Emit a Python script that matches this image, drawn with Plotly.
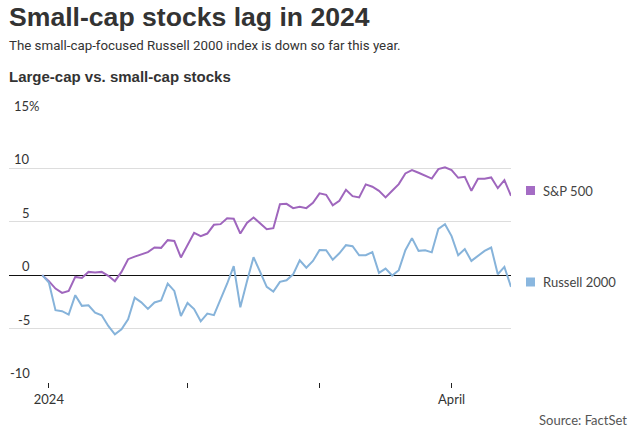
import pandas as pd
import plotly.graph_objects as go

# Trading days: last close of 2023 as the baseline, then 2024 sessions
holidays = ["2024-01-15", "2024-02-19", "2024-03-29"]
sessions = [d for d in pd.bdate_range("2024-01-02", "2024-04-12").strftime("%Y-%m-%d") if d not in holidays]
dates = ["2023-12-29"] + sessions

sp500 = [0, -0.56, -1.25, -1.66, -1.47, -0.16, -0.25, 0.31, 0.25, 0.31,
         -0.06, -0.56, 0.31, 1.5, 1.74, 1.98, 2.16, 2.59, 2.56, 3.28,
         3.21, 1.66, 2.81, 3.97, 3.66, 3.9, 4.72, 4.78, 5.34, 5.28,
         3.9, 4.9, 5.4, 4.9, 4.31, 4.4, 6.65, 6.68, 6.28, 6.4,
         6.28, 6.78, 7.66, 7.53, 6.55, 6.97, 8.0, 7.4, 7.28, 8.5,
         8.28, 7.9, 7.28, 7.9, 8.53, 9.53, 9.84, 9.59, 9.32, 9.05,
         9.93, 10.1, 9.84, 9.12, 9.21, 7.9, 9.03, 9.03, 9.15, 8.15,
         8.9, 7.43]

russell = [0, -0.69, -3.28, -3.37, -3.69, -1.87, -2.87, -2.81, -3.5, -3.75,
           -4.75, -5.53, -5.06, -4.12, -2.1, -2.54, -3.16, -2.55, -2.37, -0.78,
           -1.47, -3.82, -2.6, -3.17, -4.32, -3.59, -3.74, -2.34, -0.8, 0.85,
           -3.0, -0.6, 1.69, 0.31, -1.09, -1.53, -0.62, -0.47, 0.08, 1.4,
           0.7, 1.33, 2.36, 2.34, 1.45, 2.05, 2.81, 2.72, 1.87, 1.87,
           2.16, 0.22, 0.62, -0.03, 0.47, 2.34, 3.47, 2.28, 2.34, 2.14,
           4.34, 4.78, 3.66, 1.87, 2.44, 1.34, 1.78, 2.28, 2.59, 0.09,
           0.78, -1.09]

series_names = ["S&P 500", "Russell 2000"]
series_colors = ["#9f66bd", "#86b3da"]
key_colors = ["#a46cc4", "#8ab7df"]

y_ticks = [15, 10, 5, 0, -5, -10]
y_tick_text = ["15%", "10", "5", "0", "-5", "-10"]
x_tickvals = ["2024-01-02", "2024-02-01", "2024-03-01", "2024-04-01"]
x_ticktext = ["2024", "", "", "April"]

W, H = 633, 434
L, R, T, B = 9, 122, 115, 52
PW, PH = W - L - R, H - T - B


def px(x):
    return (x - L) / PW


def py(y):
    return (H - B - y) / PH


fig = go.Figure()
for name, vals, col in zip(series_names, [sp500, russell], series_colors):
    fig.add_trace(go.Scatter(x=dates, y=vals, mode="lines", name=name,
                             line=dict(color=col, width=2), hoverinfo="skip"))

annotations = []
TXT = "#333333"
annotations.append(dict(text="<b>Small-cap stocks lag in 2024</b>", x=px(7), y=py(17),
                        xref="paper", yref="paper", xanchor="left", yanchor="middle",
                        showarrow=False, font=dict(family="Liberation Sans", size=26.6, color=TXT)))
annotations.append(dict(text="The small-cap-focused Russell 2000 index is down so far this year.",
                        x=px(7), y=py(45), xref="paper", yref="paper", xanchor="left",
                        yanchor="middle", showarrow=False,
                        font=dict(family="Roboto", size=13.3, color=TXT)))
annotations.append(dict(text="<b>Large-cap vs. small-cap stocks</b>", x=px(7), y=py(76),
                        xref="paper", yref="paper", xanchor="left", yanchor="middle",
                        showarrow=False, font=dict(family="Liberation Sans", size=15, color=TXT)))
annotations.append(dict(text="Source: FactSet", x=px(629), y=py(420), xref="paper", yref="paper",
                        xanchor="right", yanchor="middle", showarrow=False,
                        font=dict(family="Lato", size=13, color="#555555")))

for v, t in zip(y_ticks, y_tick_text):
    xr = 42 if t.endswith("%") else 32
    annotations.append(dict(text=t, x=px(xr), y=v, xref="paper", yref="y", xanchor="right",
                            yanchor="middle", yshift=9, showarrow=False,
                            font=dict(family="Lato", size=13, color=TXT)))

shapes = []
key_y = [190.5, 282]
for name, col, ky in zip(series_names, key_colors, key_y):
    shapes.append(dict(type="rect", xref="paper", yref="paper", x0=px(526), x1=px(535),
                       y0=py(ky + 4.5), y1=py(ky - 4.5), fillcolor=col, line=dict(width=0)))
    annotations.append(dict(text=name, x=px(541), y=py(ky), xref="paper", yref="paper",
                            xanchor="left", yanchor="middle", showarrow=False,
                            font=dict(family="Lato", size=13, color="#444444")))

fig.update_layout(
    width=W, height=H, margin=dict(l=L, r=R, t=T, b=B),
    paper_bgcolor="white", plot_bgcolor="white", showlegend=False,
    annotations=annotations, shapes=shapes,
    xaxis=dict(type="category", range=[-5.04, 71], tickmode="array", tickvals=x_tickvals,
               ticktext=x_ticktext, ticks="outside", ticklen=5, tickwidth=1, tickcolor="#222222",
               showgrid=False, showline=False, zeroline=False,
               tickfont=dict(family="Lato", size=13, color=TXT)),
    yaxis=dict(range=[-10, 15], tickvals=y_ticks, showticklabels=False, showgrid=True,
               gridcolor="#dddddd", gridwidth=1, zeroline=True, zerolinecolor="#111111",
               zerolinewidth=1.3, showline=False, fixedrange=True),
)

fig.write_html("out.html", config={"displayModeBar": False},
               post_script="document.body.style.margin='0px';")
